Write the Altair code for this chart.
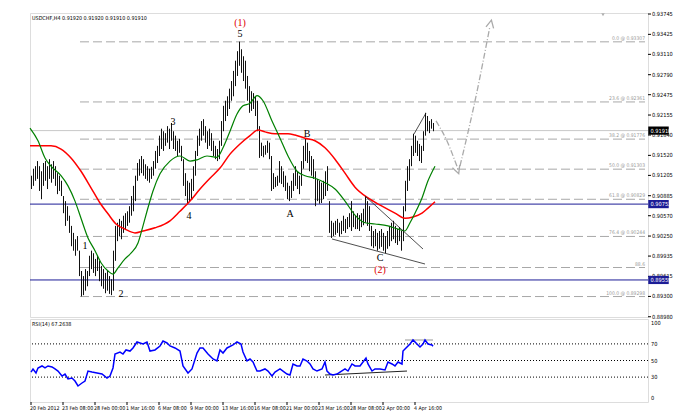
import altair as alt
import pandas as pd

# ---------------- data ----------------
bar_high = [
    0.9120, 0.9131, 0.9135, 0.9143, 0.9135, 0.9127, 0.9140, 0.9143, 0.9135, 0.9146,
    0.9138, 0.9143, 0.9135, 0.9124, 0.9120, 0.9112, 0.9088, 0.9080, 0.9072, 0.9057,
    0.9041, 0.9030, 0.9020, 0.9025, 0.9002, 0.8970, 0.8962, 0.8973, 0.8970, 0.8994,
    0.9002, 0.8998, 0.8989, 0.8994, 0.8986, 0.8978, 0.8973, 0.8967, 0.8970, 0.8962,
    0.8957, 0.9002, 0.9041, 0.9046, 0.9052, 0.9049, 0.9057, 0.9061, 0.9064, 0.9072,
    0.9088, 0.9104, 0.9120, 0.9140, 0.9146, 0.9151, 0.9146, 0.9138, 0.9135, 0.9131,
    0.9134, 0.9143, 0.9159, 0.9167, 0.9183, 0.9194, 0.9190, 0.9187, 0.9198, 0.9194,
    0.9203, 0.9190, 0.9183, 0.9175, 0.9178, 0.9167, 0.9146, 0.9124, 0.9112, 0.9109,
    0.9115, 0.9135, 0.9159, 0.9183, 0.9194, 0.9206, 0.9209, 0.9198, 0.9190, 0.9194,
    0.9187, 0.9175, 0.9167, 0.9162, 0.9175, 0.9206, 0.9230, 0.9238, 0.9245, 0.9257,
    0.9269, 0.9285, 0.9301, 0.9316, 0.9331, 0.9319, 0.9308, 0.9301, 0.9277, 0.9261,
    0.9253, 0.9250, 0.9245, 0.9238, 0.9198, 0.9172, 0.9167, 0.9168, 0.9175, 0.9172,
    0.9151, 0.9124, 0.9118, 0.9120, 0.9143, 0.9135, 0.9127, 0.9120, 0.9109, 0.9104,
    0.9112, 0.9124, 0.9135, 0.9127, 0.9120, 0.9143, 0.9167, 0.9178, 0.9172, 0.9159,
    0.9151, 0.9146, 0.9127, 0.9115, 0.9112, 0.9109, 0.9112, 0.9127, 0.9135, 0.9080,
    0.9049, 0.9046, 0.9049, 0.9052, 0.9046, 0.9049, 0.9057, 0.9052, 0.9055, 0.9061,
    0.9080, 0.9064, 0.9057, 0.9061, 0.9058, 0.9061, 0.9068, 0.9088, 0.9080, 0.9072,
    0.9041, 0.9033, 0.9036, 0.9030, 0.9033, 0.9036, 0.9030, 0.9025, 0.9033, 0.9041,
    0.9046, 0.9049, 0.9041, 0.9036, 0.9039, 0.9033, 0.9072, 0.9112, 0.9135, 0.9146,
    0.9167, 0.9186, 0.9183, 0.9175, 0.9170, 0.9167, 0.9190, 0.9219, 0.9214, 0.9206,
    0.9209, 0.9203,
]
bar_low = [
    0.9099, 0.9104, 0.9112, 0.9115, 0.9096, 0.9083, 0.9104, 0.9112, 0.9099, 0.9115,
    0.9109, 0.9115, 0.9104, 0.9091, 0.9096, 0.9088, 0.9061, 0.9041, 0.9049, 0.9030,
    0.9009, 0.9002, 0.8994, 0.9002, 0.8962, 0.8930, 0.8932, 0.8939, 0.8946, 0.8962,
    0.8973, 0.8967, 0.8962, 0.8970, 0.8954, 0.8946, 0.8942, 0.8935, 0.8939, 0.8934,
    0.8932, 0.8939, 0.8986, 0.9017, 0.9025, 0.9020, 0.9030, 0.9036, 0.9041, 0.9046,
    0.9057, 0.9064, 0.9080, 0.9112, 0.9120, 0.9124, 0.9120, 0.9115, 0.9112, 0.9109,
    0.9115, 0.9120, 0.9131, 0.9140, 0.9151, 0.9162, 0.9159, 0.9167, 0.9172, 0.9162,
    0.9175, 0.9162, 0.9159, 0.9151, 0.9156, 0.9143, 0.9104, 0.9088, 0.9076, 0.9080,
    0.9083, 0.9096, 0.9120, 0.9151, 0.9167, 0.9175, 0.9183, 0.9172, 0.9162, 0.9167,
    0.9159, 0.9151, 0.9146, 0.9143, 0.9146, 0.9167, 0.9190, 0.9206, 0.9214, 0.9225,
    0.9238, 0.9245, 0.9261, 0.9277, 0.9293, 0.9282, 0.9269, 0.9257, 0.9238, 0.9219,
    0.9222, 0.9225, 0.9214, 0.9190, 0.9148, 0.9151, 0.9149, 0.9153, 0.9156, 0.9146,
    0.9096, 0.9099, 0.9102, 0.9104, 0.9109, 0.9107, 0.9102, 0.9096, 0.9083, 0.9080,
    0.9085, 0.9096, 0.9104, 0.9099, 0.9091, 0.9104, 0.9131, 0.9143, 0.9140, 0.9127,
    0.9120, 0.9115, 0.9072, 0.9080, 0.9076, 0.9077, 0.9083, 0.9088, 0.9096, 0.9030,
    0.9022, 0.9025, 0.9027, 0.9030, 0.9024, 0.9028, 0.9033, 0.9030, 0.9036, 0.9039,
    0.9033, 0.9039, 0.9036, 0.9036, 0.9033, 0.9039, 0.9042, 0.9046, 0.9041, 0.9033,
    0.9009, 0.9006, 0.9009, 0.9002, 0.9005, 0.9008, 0.9002, 0.8998, 0.9005, 0.9009,
    0.9017, 0.9020, 0.9014, 0.9011, 0.9017, 0.9002, 0.9017, 0.9064, 0.9096, 0.9112,
    0.9135, 0.9151, 0.9156, 0.9151, 0.9143, 0.9140, 0.9159, 0.9183, 0.9190, 0.9187,
    0.9194, 0.9190,
]

red_ma_bar = [-0.5, 10, 15, 20, 25, 30, 34.5, 38.5, 42.5, 47, 52, 56, 62, 69.5, 74.5, 79.5,
              84.5, 89.5, 94.5, 99.5, 104.5, 109.5, 113.5, 117, 122, 128.5, 132, 137, 142,
              147, 152, 157, 162, 168.5, 175.5, 182, 187, 191, 195.5, 198.5, 202]
red_ma_val = [0.9167, 0.9167, 0.9162, 0.9148, 0.9127, 0.9101, 0.9077, 0.9060, 0.9044, 0.9036,
              0.9030, 0.9033, 0.9038, 0.9049, 0.9064, 0.9080, 0.9099, 0.9116, 0.9132, 0.9154,
              0.9170, 0.9183, 0.9192, 0.9189, 0.9186, 0.9186, 0.9184, 0.9179, 0.9175, 0.9164,
              0.9146, 0.9124, 0.9102, 0.9085, 0.9072, 0.9061, 0.9053, 0.9055, 0.9061, 0.9069,
              0.9079]

green_ma_bar = [-0.5, 3.5, 7, 10, 15, 18.5, 22, 25, 28.5, 32, 35, 38.5, 41, 43.5, 47, 50, 53.5,
                56, 58, 61, 64.5, 69.5, 74.5, 79.5, 83, 88, 93, 96, 99.5, 103, 106, 109.5, 113,
                116, 120.5, 124.5, 128.5, 133, 137, 142, 147, 152, 157, 162, 167, 172, 178.5,
                183.5, 187, 189.5, 192, 195.5, 198.5, 202]
green_ma_val = [0.9195, 0.9175, 0.9148, 0.9135, 0.9120, 0.9104, 0.9080, 0.9053, 0.9022, 0.9002,
                0.8983, 0.8970, 0.8965, 0.8975, 0.8989, 0.8998, 0.9014, 0.9041, 0.9064, 0.9096,
                0.9123, 0.9143, 0.9151, 0.9143, 0.9145, 0.9151, 0.9149, 0.9164, 0.9190, 0.9217,
                0.9230, 0.9234, 0.9246, 0.9238, 0.9206, 0.9179, 0.9151, 0.9127, 0.9120, 0.9116,
                0.9109, 0.9099, 0.9080, 0.9058, 0.9046, 0.9044, 0.9041, 0.9036, 0.9033, 0.9046,
                0.9061, 0.9085, 0.9112, 0.9135]

rsi_bar = [0, 1, 2.5, 3.5, 5.5, 7, 8.5, 10.5, 12, 13.5, 15.5, 17, 18.5, 20.5, 22, 23.5, 25.5, 27,
           28.5, 30.5, 33, 35.5, 38, 39.5, 41, 42, 44.5, 46, 47.5, 49.5, 51, 53, 54.5, 56, 58,
           59.5, 62, 64.5, 66, 68, 69.5, 72, 74.5, 76, 78.5, 80.5, 83, 84.5, 86, 88.5, 91, 93,
           94.5, 96, 98, 101, 103, 105, 106, 108, 109.5, 111, 113, 114.5, 117, 118.5, 120.5,
           122, 124.5, 126, 128, 129.5, 131, 133, 134.5, 136, 138, 139.5, 141, 143, 145.5, 147,
           148, 149.5, 151, 153, 154.5, 157, 158.5, 160.5, 162, 164.5, 166, 167.5, 168.5, 170.5,
           172, 174.5, 177, 178.5, 180.5, 182, 183.5, 185.5, 186, 188, 189.5, 191, 193, 194.5,
           196, 197, 198.5, 200.5, 201]
rsi_val = [36.1, 39.8, 34.9, 41.0, 43.4, 41.0, 43.4, 42.2, 39.8, 37.3, 31.3, 33.7, 27.7, 28.9,
           25.3, 19.3, 22.9, 25.3, 37.3, 36.1, 34.9, 33.7, 28.9, 31.3, 41.0, 57.8, 60.2, 57.8,
           62.7, 61.4, 65.1, 72.3, 71.1, 69.9, 72.3, 61.4, 62.7, 67.5, 73.5, 71.1, 67.5, 65.1,
           61.4, 43.4, 34.9, 39.8, 59.0, 65.1, 65.1, 57.8, 51.8, 49.4, 62.7, 59.0, 65.1, 68.7,
           72.3, 69.9, 60.2, 49.4, 51.8, 48.2, 37.3, 37.3, 39.8, 37.3, 31.3, 36.1, 39.8, 37.3,
           33.7, 32.5, 45.8, 43.4, 43.4, 51.8, 49.4, 45.8, 39.8, 37.3, 39.8, 48.2, 37.3, 33.7,
           32.5, 33.7, 36.1, 39.8, 37.3, 45.8, 43.4, 43.4, 48.2, 53.0, 45.8, 37.3, 39.8, 39.8,
           38.6, 48.2, 45.8, 43.4, 48.2, 45.8, 61.4, 66.3, 69.9, 74.7, 69.9, 66.3, 69.9, 74.7,
           69.9, 68.7, 67.3]

price_ticks = [0.93745, 0.93425, 0.93110, 0.92790, 0.92475, 0.92155, 0.91840, 0.91520,
               0.91205, 0.90885, 0.90570, 0.90250, 0.89935, 0.89615, 0.89300, 0.88980]
price_tick_text = ["0.93745", "0.93425", "0.93110", "0.92790", "0.92475", "0.92155", "0.91840",
                   "0.91520", "0.91205", "0.90885", "0.90570", "0.90250", "0.89935", "0.89615",
                   "0.89300", "0.88980"]
rsi_ticks_mid = [70, 50, 30]
rsi_ticks_mid_text = ["70", "50", "30"]
date_labels = ["20 Feb 2012", "23 Feb 08:00", "28 Feb 00:00", "1 Mar 16:00", "6 Mar 08:00",
               "9 Mar 00:00", "13 Mar 16:00", "16 Mar 08:00", "21 Mar 00:00", "23 Mar 16:00",
               "28 Mar 08:00", "2 Apr 00:00", "4 Apr 16:00"]
date_label_bars = [0, 16, 32, 48, 64, 80, 96, 112, 128, 144, 160, 176, 192]

fib_price = [0.93307, 0.92361, 0.91776, 0.91303, 0.90829, 0.90244, 0.89755, 0.89298]
fib_text = ["0.0 @ 0.93307", "23.6 @ 0.92361", "38.2 @ 0.91776", "50.0 @ 0.91303",
            "61.8 @ 0.90829", "76.4 @ 0.90244", "88.6", "100.0 @ 0.89298"]
fib_start_bar = 24.5
fib_end_bar = 307

blue_levels = [0.90753, 0.89559]
blue_texts = ["0.90753", "0.89559"]
last_price = 0.91910
last_text = "0.91910"

wave_red_text = ["(1)", "(2)"]
wave_red_bar = [104.5, 174.5]
wave_red_price = [0.93600, 0.89720]
wave_text = ["5", "3", "4", "1", "2", "A", "B", "C"]
wave_bar = [104.5, 71, 79, 27, 45, 129.5, 138, 174.5]
wave_price = [0.93431, 0.92045, 0.90566, 0.90093, 0.89338, 0.90597, 0.91857, 0.89905]

channel_id = ["up", "up", "low", "low", "imp", "imp"]
channel_bar = [167, 196, 150.5, 197, 191.5, 197.5]
channel_price = [0.90880, 0.90046, 0.90204, 0.89810, 0.91856, 0.92187]

proj_id = ["a", "a", "a", "a", "b", "b", "b"]
proj_bar = [202.5, 208, 212, 213.5, 214.5, 222, 229.5]
proj_price = [0.92062, 0.91746, 0.91432, 0.91306, 0.91353, 0.92376, 0.93556]
arrow_bar = [213.2, 229.8]
arrow_price = [0.91290, 0.93590]
arrow_angle = [160, 12]

rsi_levels = [30, 50, 70]
rsi_tl_bar = [147, 188]
rsi_tl_val = [32.5, 37.3]
rsi_top_bar = [187, 201]
rsi_top_val = [74.7, 74.7]

# ---------------- chart ----------------
FONT = "Liberation Sans Narrow, DejaVu Sans Condensed, Liberation Sans, sans-serif"
SERIF = "Liberation Serif, Times New Roman, serif"
W = 618
H_MAIN = 304
H_RSI = 83
xdom = [-0.5, 308.5]
xs = alt.Scale(domain=xdom, nice=False, zero=False)
ys = alt.Scale(domain=[0.88976, 0.93761], nice=False, zero=False)
X = lambda f: alt.X(f, type="quantitative", scale=xs, axis=None)
Y = lambda f: alt.Y(f, type="quantitative", scale=ys, axis=None)

bars = pd.DataFrame({"i": list(range(len(bar_high))), "h": bar_high, "l": bar_low})
red = pd.DataFrame({"i": red_ma_bar, "v": red_ma_val})
green = pd.DataFrame({"i": green_ma_bar, "v": green_ma_val})
fib = pd.DataFrame({"p": fib_price, "t": fib_text, "s": fib_start_bar, "e": fib_end_bar})
waves = pd.DataFrame({"i": wave_bar, "p": wave_price, "t": wave_text})
waves_red = pd.DataFrame({"i": wave_red_bar, "p": wave_red_price, "t": wave_red_text})
chan = pd.DataFrame({"id": channel_id, "i": channel_bar, "p": channel_price,
                     "o": list(range(len(channel_id)))})
proj = pd.DataFrame({"id": proj_id, "i": proj_bar, "p": proj_price, "o": list(range(len(proj_id)))})
arrows = pd.DataFrame({"i": arrow_bar, "p": arrow_price, "a": arrow_angle})
blue = pd.DataFrame({"p": blue_levels, "t": blue_texts})
last = pd.DataFrame({"p": [last_price], "t": [last_text]})
ticks = pd.DataFrame({"p": price_ticks, "t": price_tick_text})

# right price axis drawn as ticks + text
y_ticks = alt.Chart(ticks).mark_rule(color="#000", strokeWidth=1).encode(
    x=alt.value(W), x2=alt.value(W + 3), y=Y("p"))
y_labels = alt.Chart(ticks).mark_text(align="left", baseline="middle", font=FONT, fontSize=5.6,
                                      color="#000").encode(x=alt.value(W + 4), y=Y("p"), text="t")

fib_rules = alt.Chart(fib).mark_rule(color="#a8a8a8", strokeDash=[9, 4], strokeWidth=1).encode(
    x=X("s"), x2="e", y=Y("p"))
fib_labels = alt.Chart(fib).mark_text(align="right", baseline="bottom", dy=-1, fontSize=5,
                                      font=FONT, color="#9a9a9a").encode(
    x=X("e"), y=Y("p"), text="t")
price_line = alt.Chart(last).mark_rule(color="#c8c8c8", strokeWidth=1).encode(y=Y("p"))
blue_rules = alt.Chart(blue).mark_rule(color="#1c1c96", strokeWidth=1).encode(y=Y("p"))

bar_rules = alt.Chart(bars).mark_rule(color="#111111", strokeWidth=1, xOffset=0.5).encode(
    x=X("i"), y=Y("h"), y2="l")
red_line = alt.Chart(red).mark_line(color="#ff0000", strokeWidth=1.5, interpolate="monotone").encode(
    x=X("i"), y=Y("v"))
green_line = alt.Chart(green).mark_line(color="#008000", strokeWidth=1.2, interpolate="monotone").encode(
    x=X("i"), y=Y("v"))
chan_lines = alt.Chart(chan).mark_line(color="#222222", strokeWidth=0.8).encode(
    x=X("i"), y=Y("p"), detail="id:N", order="o:Q")
proj_lines = alt.Chart(proj).mark_line(color="#aaaaaa", strokeWidth=1.3, strokeDash=[6, 2, 1, 2],
                                       interpolate="monotone").encode(
    x=X("i"), y=Y("p"), detail="id:N", order="o:Q")
arrow_heads = alt.Chart(arrows).mark_point(shape="M-1,1L0,-1L1,1", filled=False, size=60,
                                           color="#aaaaaa", strokeWidth=1.3, opacity=1).encode(
    x=X("i"), y=Y("p"), angle=alt.Angle("a:Q", scale=None))
wave_labels = alt.Chart(waves).mark_text(font=SERIF, fontSize=10, baseline="middle",
                                         color="#000000").encode(x=X("i"), y=Y("p"), text="t")
wave_red_labels = alt.Chart(waves_red).mark_text(font=SERIF, fontSize=10, baseline="middle",
                                                 color="#e00000").encode(x=X("i"), y=Y("p"), text="t")
shift_mark = alt.Chart(pd.DataFrame({"i": [286], "p": [0.93735]})).mark_point(
    shape="triangle-down", filled=True, size=12, color="#b0b0b0", opacity=1).encode(
    x=X("i"), y=Y("p"))
box_shape = "M-1,-0.4L1,-0.4L1,0.4L-1,0.4Z"
blue_boxes = alt.Chart(blue).mark_point(shape=box_shape, filled=True, size=420, color="#1c1c96",
                                        opacity=1).encode(x=alt.value(W + 10.5), y=Y("p"))
blue_box_text = alt.Chart(blue).mark_text(align="left", baseline="middle", font=FONT, fontSize=5.6,
                                          color="white").encode(x=alt.value(W + 2.5), y=Y("p"), text="t")
last_box = alt.Chart(last).mark_point(shape=box_shape, filled=True, size=420, color="#000000",
                                      opacity=1).encode(x=alt.value(W + 10.5), y=Y("p"))
last_box_text = alt.Chart(last).mark_text(align="left", baseline="middle", font=FONT, fontSize=5.6,
                                          color="white").encode(x=alt.value(W + 2.5), y=Y("p"), text="t")
header = alt.Chart(pd.DataFrame({"t": ["USDCHF,H4 0.91920 0.91920 0.91910 0.91910"]})).mark_text(
    align="left", baseline="top", font=FONT, fontSize=5.4, color="#000").encode(
    x=alt.value(2), y=alt.value(3), text="t")

main = alt.layer(
    y_ticks, y_labels, fib_rules, fib_labels, price_line, blue_rules, bar_rules, red_line,
    green_line, chan_lines, proj_lines, arrow_heads, wave_labels, wave_red_labels, shift_mark,
    blue_boxes, blue_box_text, last_box, last_box_text, header
).properties(width=W, height=H_MAIN)

# RSI panel
rs = alt.Scale(domain=[0, 100], nice=False, zero=False)
RX = lambda f: alt.X(f, type="quantitative", scale=xs, axis=None)
RY = lambda f: alt.Y(f, type="quantitative", scale=rs, axis=None)
rsi_df = pd.DataFrame({"i": rsi_bar, "v": rsi_val})
dates = pd.DataFrame({"i": date_label_bars, "t": date_labels})
x_ticks = alt.Chart(dates).mark_rule(color="#000", strokeWidth=1).encode(
    x=RX("i"), y=alt.value(H_RSI), y2=alt.value(H_RSI + 3))
x_labels = alt.Chart(dates).mark_text(align="left", baseline="middle", font=FONT, fontSize=5.3,
                                      color="#000", dx=-1).encode(
    x=RX("i"), y=alt.value(H_RSI + 6), text="t")
rsi_mid_labels = alt.Chart(pd.DataFrame({"v": rsi_ticks_mid, "t": rsi_ticks_mid_text})).mark_text(
    align="left", baseline="middle", font=FONT, fontSize=5.6, color="#000").encode(
    x=alt.value(W + 3), y=RY("v"), text="t")
rsi_top_label = alt.Chart(pd.DataFrame({"v": [100], "t": ["100"]})).mark_text(
    align="left", baseline="top", dy=2, font=FONT, fontSize=5.6, color="#000").encode(
    x=alt.value(W + 3), y=RY("v"), text="t")
rsi_bot_label = alt.Chart(pd.DataFrame({"v": [0], "t": ["0"]})).mark_text(
    align="left", baseline="bottom", dy=-1, font=FONT, fontSize=5.6, color="#000").encode(
    x=alt.value(W + 3), y=RY("v"), text="t")
rsi_levels_rule = alt.Chart(pd.DataFrame({"v": rsi_levels})).mark_rule(
    color="#000", strokeDash=[1, 2], strokeWidth=1).encode(y=RY("v"))
rsi_tl = alt.Chart(pd.DataFrame({"i": rsi_tl_bar, "v": rsi_tl_val})).mark_line(
    strokeWidth=1, color="#222222").encode(x=RX("i"), y=RY("v"))
rsi_top = alt.Chart(pd.DataFrame({"i": rsi_top_bar, "v": rsi_top_val})).mark_line(
    strokeWidth=1, color="#999999").encode(x=RX("i"), y=RY("v"))
rsi_line = alt.Chart(rsi_df).mark_line(color="#0000ff", strokeWidth=1.5).encode(
    x=RX("i"), y=RY("v"))
rsi_header = alt.Chart(pd.DataFrame({"t": ["RSI(14) 67.2638"]})).mark_text(
    align="left", baseline="top", font=FONT, fontSize=5.4, color="#000").encode(
    x=alt.value(2), y=alt.value(3), text="t")

rsi = alt.layer(rsi_levels_rule, rsi_tl, rsi_top, rsi_line, rsi_header, rsi_mid_labels,
                rsi_top_label, rsi_bot_label, x_ticks, x_labels).properties(width=W, height=H_RSI)

chart = alt.vconcat(main, rsi, spacing=2, bounds="flush").resolve_scale(
    x="independent", y="independent").properties(
    padding={"left": 18, "top": 3, "right": 5, "bottom": 2}
).configure_view(stroke="#222222", strokeWidth=1).configure(background="white")

chart.save("out.html", embed_options={"renderer": "svg", "actions": False})
